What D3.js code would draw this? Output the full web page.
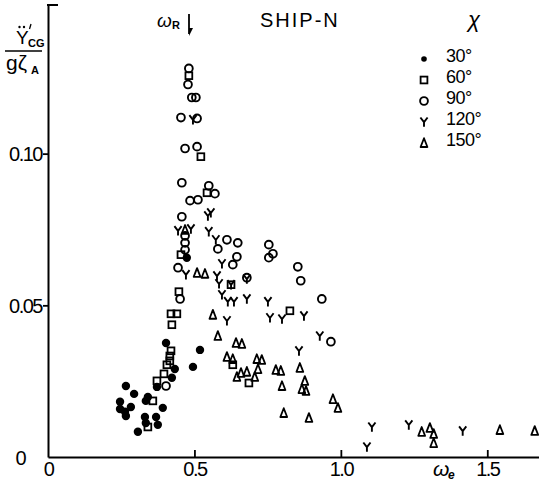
<!DOCTYPE html>
<html>
<head>
<meta charset="utf-8">
<script src="https://cdn.jsdelivr.net/npm/d3@7"></script>
<style>
  html, body { margin: 0; padding: 0; background: #fff; }
  svg { display: block; }
  text { font-family: "Liberation Sans", Arial, sans-serif; fill: #000; }
</style>
</head>
<body>
<svg id="chart" width="539" height="487"></svg>
<script>
// Lateral acceleration at CG, non-dimensional, vs encounter frequency, for five headings chi
const headings = ["30°", "60°", "90°", "120°", "150°"];
const xTicks = [0, 0.5, 1.0, 1.5];
const xTickLabels = ["0", "0.5", "1.0", "1.5"];
const yTicks = [0, 0.05, 0.10];
const yTickLabels = ["0", "0.05", "0.10"];

// chi = 30 deg (filled dots)
const we30 = [0.403, 0.519, 0.495, 0.433, 0.423, 0.372, 0.266, 0.294, 0.341, 0.334, 0.246, 0.283, 0.246, 0.392, 0.263, 0.266, 0.331, 0.369, 0.334, 0.375, 0.307, 0.474];
const acc30 = [0.0376, 0.0353, 0.0297, 0.0290, 0.0261, 0.0231, 0.0234, 0.0208, 0.0198, 0.0185, 0.0182, 0.0165, 0.0158, 0.0162, 0.0149, 0.0135, 0.0132, 0.0132, 0.0112, 0.0106, 0.0083, 0.0657];

// chi = 60 deg (squares)
const we60 = [0.481, 0.522, 0.543, 0.454, 0.447, 0.420, 0.440, 0.423, 0.420, 0.416, 0.416, 0.406, 0.396, 0.372, 0.358, 0.341, 0.625, 0.826, 0.631, 0.686];
const acc60 = [0.1257, 0.0990, 0.0871, 0.0667, 0.0545, 0.0472, 0.0472, 0.0436, 0.0350, 0.0333, 0.0317, 0.0304, 0.0274, 0.0251, 0.0185, 0.0099, 0.0568, 0.0482, 0.0304, 0.0244];

// chi = 90 deg (open circles)
const we90 = [0.481, 0.478, 0.491, 0.505, 0.454, 0.509, 0.468, 0.509, 0.457, 0.549, 0.570, 0.485, 0.512, 0.457, 0.468, 0.468, 0.468, 0.611, 0.648, 0.580, 0.754, 0.768, 0.754, 0.645, 0.631, 0.444, 0.679, 0.853, 0.863, 0.935, 0.966, 0.451, 0.403];
const acc90 = [0.1281, 0.1228, 0.1185, 0.1185, 0.1119, 0.1116, 0.1017, 0.1023, 0.0904, 0.0894, 0.0868, 0.0845, 0.0848, 0.0792, 0.0729, 0.0706, 0.0683, 0.0716, 0.0706, 0.0686, 0.0700, 0.0670, 0.0657, 0.0660, 0.0634, 0.0624, 0.0591, 0.0627, 0.0581, 0.0521, 0.0380, 0.0521, 0.0234];

// chi = 120 deg (Y marks)
const we120 = [0.495, 0.546, 0.556, 0.444, 0.488, 0.549, 0.573, 0.594, 0.471, 0.577, 0.679, 0.584, 0.625, 0.594, 0.614, 0.635, 0.679, 0.751, 0.611, 0.758, 0.799, 0.874, 0.928, 0.857, 1.106, 1.232, 1.416, 1.089];
const acc120 = [0.1112, 0.0795, 0.0805, 0.0746, 0.0752, 0.0743, 0.0716, 0.0637, 0.0601, 0.0597, 0.0587, 0.0571, 0.0568, 0.0535, 0.0512, 0.0512, 0.0521, 0.0512, 0.0449, 0.0459, 0.0455, 0.0465, 0.0399, 0.0350, 0.0099, 0.0106, 0.0086, 0.0033];

// chi = 150 deg (triangles)
const we150 = [0.468, 0.509, 0.536, 0.563, 0.580, 0.642, 0.662, 0.611, 0.631, 0.713, 0.730, 0.717, 0.659, 0.679, 0.645, 0.706, 0.778, 0.795, 0.799, 0.805, 0.860, 0.877, 0.867, 0.881, 0.973, 0.990, 0.891, 1.276, 1.304, 1.317, 1.317, 1.543, 1.662];
const acc150 = [0.0749, 0.0607, 0.0604, 0.0469, 0.0399, 0.0376, 0.0373, 0.0330, 0.0323, 0.0323, 0.0320, 0.0290, 0.0277, 0.0281, 0.0264, 0.0264, 0.0287, 0.0284, 0.0234, 0.0145, 0.0294, 0.0251, 0.0224, 0.0218, 0.0191, 0.0162, 0.0129, 0.0083, 0.0096, 0.0076, 0.0046, 0.0089, 0.0086];

const svg = d3.select("#chart");
const x = d3.scaleLinear().domain([0, 1.68]).range([48, 540]);
const y = d3.scaleLinear().domain([0, 0.149]).range([457, 5]);

// ---- marker shapes ----
const markers = {
  dot: (g) => g.append("circle").attr("r", 4.2).attr("fill", "#000"),
  square: (g) => g.append("rect").attr("x", -3.4).attr("y", -3.4).attr("width", 6.8).attr("height", 6.8)
    .attr("fill", "none").attr("stroke", "#000").attr("stroke-width", 1.8),
  circle: (g) => g.append("circle").attr("r", 3.9).attr("fill", "none").attr("stroke", "#000").attr("stroke-width", 1.9),
  wye: (g) => g.append("path").attr("d", "M-3.6,-4.5 L0,0.2 L3.6,-4.5 M0,0.2 L0,4.8")
    .attr("fill", "none").attr("stroke", "#000").attr("stroke-width", 1.9),
  tri: (g) => g.append("path").attr("d", "M0,-4.8 L3.4,4 L-3.4,4 Z")
    .attr("fill", "none").attr("stroke", "#000").attr("stroke-width", 1.8).attr("stroke-linejoin", "round")
};

const series = [
  { xs: we30, ys: acc30, shape: "dot" },
  { xs: we60, ys: acc60, shape: "square" },
  { xs: we90, ys: acc90, shape: "circle" },
  { xs: we120, ys: acc120, shape: "wye" },
  { xs: we150, ys: acc150, shape: "tri" }
];

// ---- axes ----
const yAxis = d3.axisLeft(y).tickValues(yTicks).tickSize(5).tickSizeOuter(0)
  .tickFormat((d, i) => yTickLabels[i]);
const gy = svg.append("g").attr("transform", `translate(${x(0)},0)`).call(yAxis);
gy.select(".domain").attr("stroke", "#000").attr("stroke-width", 2);
gy.selectAll(".tick line").attr("stroke", "#000").attr("stroke-width", 1.8)
  .filter(d => d === 0).remove();
gy.selectAll(".tick text").attr("font-size", 20).attr("dy", "0.36em")
  .attr("x", -6).style("letter-spacing", "-1.5px")
  .attr("font-family", null);
gy.selectAll(".tick").filter(d => d === 0).select("text").attr("x", -23);

// small stub at the top of the vertical axis
svg.append("line").attr("x1", x(0) - 1).attr("x2", x(0) + 10)
  .attr("y1", y(0.149)).attr("y2", y(0.149)).attr("stroke", "#000").attr("stroke-width", 2);

const xAxis = d3.axisBottom(x).tickValues(xTicks).tickSizeInner(-7).tickSizeOuter(0)
  .tickFormat((d, i) => xTickLabels[i]);
const gx = svg.append("g").attr("transform", `translate(0,${y(0)})`).call(xAxis);
gx.select(".domain").attr("stroke", "#000").attr("stroke-width", 2);
gx.selectAll(".tick line").attr("stroke", "#000").attr("stroke-width", 1.8)
  .filter(d => d === 0).remove();
gx.selectAll(".tick text").attr("font-size", 20).attr("y", 5).attr("dy", "0.71em")
  .style("letter-spacing", "-1.5px").attr("font-family", null);

// ---- data points ----
const plot = svg.append("g");
series.forEach(s => {
  s.xs.forEach((v, i) => {
    const g = plot.append("g").attr("transform", `translate(${x(v)},${y(s.ys[i])})`);
    markers[s.shape](g);
  });
});

// ---- axis titles ----
// vertical axis: Y-double-dot prime CG over g zeta A
const yl = svg.append("g");
yl.append("text").attr("x", 16).attr("y", 44).attr("font-size", 19).text("Y");
yl.append("circle").attr("cx", 19.5).attr("cy", 27).attr("r", 1.2).attr("fill", "#000");
yl.append("circle").attr("cx", 24).attr("cy", 27).attr("r", 1.2).attr("fill", "#000");
// prime stroke
yl.append("line").attr("x1", 31).attr("y1", 24).attr("x2", 29.5).attr("y2", 29)
  .attr("stroke", "#000").attr("stroke-width", 1.3);
yl.append("text").attr("x", 28).attr("y", 47).attr("font-size", 11).attr("font-weight", "bold").text("CG");
yl.append("line").attr("x1", 5).attr("x2", 42).attr("y1", 51).attr("y2", 51)
  .attr("stroke", "#000").attr("stroke-width", 1.6);
yl.append("text").attr("x", 6).attr("y", 70).attr("font-size", 21).text("gζ");
yl.append("text").attr("x", 31).attr("y", 74).attr("font-size", 11).attr("font-weight", "bold").text("A");

// horizontal axis title
svg.append("text").attr("x", 433).attr("y", 476).attr("font-size", 21)
  .attr("font-style", "italic").attr("font-family", "DejaVu Serif, serif").text("ω");
svg.append("text").attr("x", 448).attr("y", 479).attr("font-size", 12)
  .attr("font-style", "italic").attr("font-weight", "bold").attr("font-family", "DejaVu Serif, serif").text("e");

// resonance marker omega_R with arrow
svg.append("text").attr("x", 157).attr("y", 27).attr("font-size", 19)
  .attr("font-style", "italic").attr("font-family", "DejaVu Serif, serif").text("ω");
svg.append("text").attr("x", 172).attr("y", 29).attr("font-size", 11)
  .attr("font-weight", "bold").text("R");
svg.append("line").attr("x1", 189).attr("x2", 189).attr("y1", 14).attr("y2", 34)
  .attr("stroke", "#000").attr("stroke-width", 1.8);
svg.append("path").attr("d", "M189,36 L189,28 L193,28 Z").attr("fill", "#000");

// title
svg.append("text").attr("x", 260).attr("y", 27).attr("font-size", 20)
  .style("letter-spacing", "2px").text("SHIP-N");

// ---- legend ----
svg.append("text").attr("x", 468).attr("y", 27).attr("font-size", 22)
  .attr("font-style", "italic").attr("font-family", "DejaVu Serif, serif").text("χ");
const legRows = [55, 76, 97, 118, 139];
headings.forEach((h, i) => {
  const g = svg.append("g").attr("transform", `translate(424,${legRows[i] + 4})`);
  markers[series[i].shape](g);
  if (series[i].shape === "dot") g.select("circle").attr("r", 2.8);
  svg.append("text").attr("x", 446).attr("y", legRows[i] + 7).attr("font-size", 18)
    .style("letter-spacing", "-0.5px").text(h);
});
</script>
</body>
</html>
